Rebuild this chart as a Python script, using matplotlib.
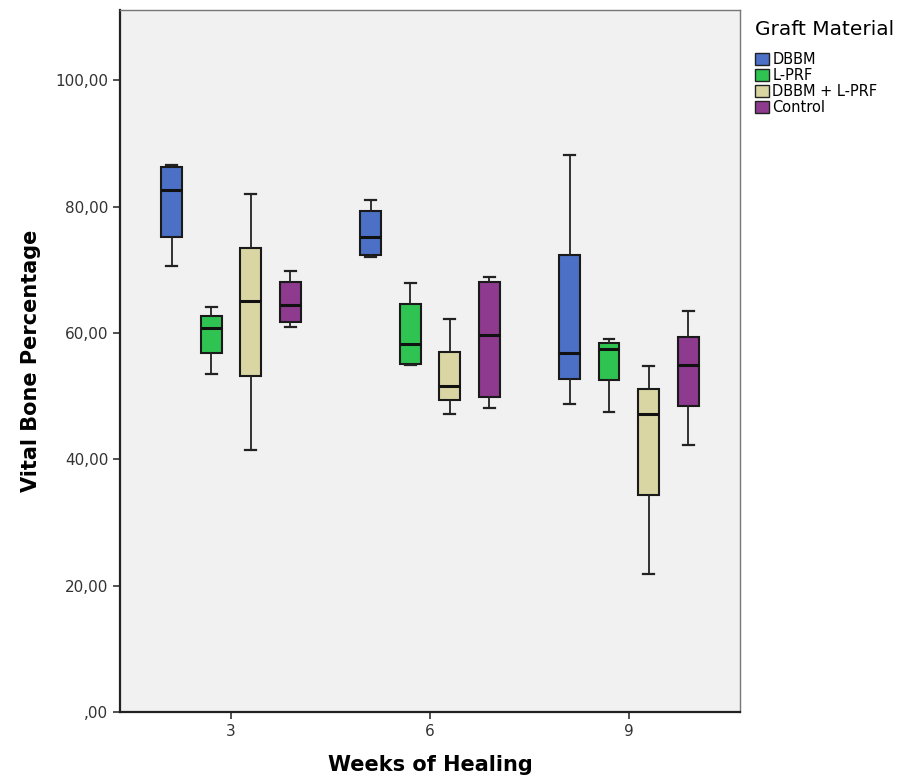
import matplotlib
matplotlib.use("Agg")
import matplotlib.pyplot as plt
from matplotlib.patches import Patch

weeks = ["3", "6", "9"]
groups = ["DBBM", "L-PRF", "DBBM + L-PRF", "Control"]
colors = ["#4b70c5", "#2fc452", "#d9d6a3", "#8d3a8f"]

# five-number summaries per group: (whisker low, q1, median, q3, whisker high), one per week
dbbm = [(70.6, 75.2, 82.7, 86.3, 86.6),
        (72.0, 72.3, 75.2, 79.3, 81.1),
        (48.8, 52.7, 56.8, 72.4, 88.1)]
lprf = [(53.5, 56.9, 60.8, 62.7, 64.1),
        (54.9, 55.1, 58.3, 64.6, 67.9),
        (47.5, 52.5, 57.5, 58.4, 59.1)]
dbbm_lprf = [(41.5, 53.2, 65.0, 73.5, 82.0),
             (47.2, 49.4, 51.6, 57.0, 62.2),
             (21.8, 34.4, 47.2, 51.1, 54.8)]
control = [(61.0, 61.7, 64.4, 68.1, 69.8),
           (48.2, 49.8, 59.7, 68.1, 68.8),
           (42.2, 48.5, 55.0, 59.4, 63.5)]
series = [dbbm, lprf, dbbm_lprf, control]

fig = plt.figure(figsize=(9.19, 7.83), dpi=100)
ax = fig.add_axes([0.1306, 0.0907, 0.805 - 0.1306, 0.987 - 0.0907])
ax.set_facecolor("#f1f1f1")

offsets = [-0.298, -0.0995, 0.0995, 0.298]
for g, (vals, col) in enumerate(zip(series, colors)):
    stats = []
    for lo, q1, med, q3, hi in vals:
        stats.append({"whislo": lo, "q1": q1, "med": med, "q3": q3, "whishi": hi, "fliers": []})
    pos = [i + offsets[g] for i in range(len(weeks))]
    ax.bxp(stats, positions=pos, widths=0.105, patch_artist=True, showfliers=False,
           capwidths=0.055,
           boxprops=dict(facecolor=col, edgecolor="#1a1a1a", linewidth=1.5),
           medianprops=dict(color="#111111", linewidth=2.2),
           whiskerprops=dict(color="#222222", linewidth=1.3),
           capprops=dict(color="#222222", linewidth=1.6))

ax.set_xlim(-0.558, 2.558)
ax.set_ylim(0, 111.1)
ax.set_xticks(range(len(weeks)))
ax.set_xticklabels(weeks, fontsize=11)
yt = [0, 20, 40, 60, 80, 100]
ax.set_yticks(yt)
ax.set_yticklabels([",00" if v == 0 else f"{v},00" for v in yt], fontsize=11, color="#222222")
ax.tick_params(direction="out", length=5, width=1.2, colors="#333333")
for s in ["left", "bottom"]:
    ax.spines[s].set_linewidth(1.6)
    ax.spines[s].set_color("#222222")
for s in ["top", "right"]:
    ax.spines[s].set_linewidth(1.0)
    ax.spines[s].set_color("#777777")

ax.set_xlabel("Weeks of Healing", fontsize=15, fontweight="bold", labelpad=12)
ax.set_ylabel("Vital Bone Percentage", fontsize=15, fontweight="bold", labelpad=10)

handles = [Patch(facecolor=c, edgecolor="#222222", linewidth=1.0) for c in colors]
leg = fig.legend(handles, groups, loc="upper left", bbox_to_anchor=(0.822, 0.974),
                 title="Graft Material", frameon=False, fontsize=10.5,
                 handlelength=0.9, handleheight=0.9, handletextpad=0.25,
                 labelspacing=0.08, borderaxespad=0, borderpad=0)
leg.get_title().set_fontsize(14.5)
leg._legend_box.align = "left"
leg._legend_box.sep = 9

fig.savefig("out.png", dpi=100)
